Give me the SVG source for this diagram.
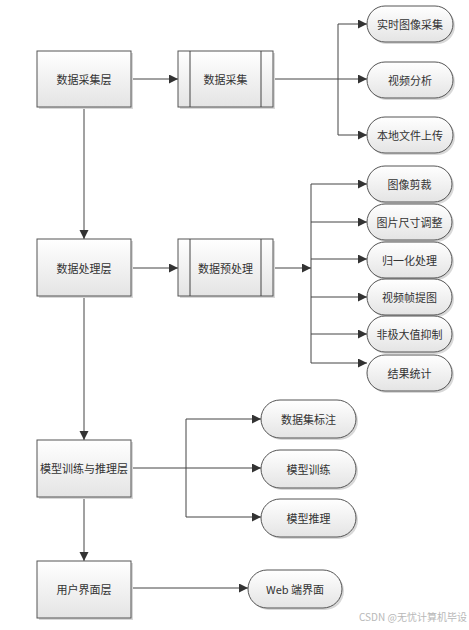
<svg xmlns="http://www.w3.org/2000/svg" width="469" height="630" viewBox="0 0 469 630">
<defs>
<linearGradient id="g" x1="0" y1="0" x2="0" y2="1">
<stop offset="0" stop-color="#ffffff"/>
<stop offset="1" stop-color="#e4e4e4"/>
</linearGradient>
<marker id="ah" markerUnits="userSpaceOnUse" markerWidth="10" markerHeight="10" refX="9" refY="4.5" orient="auto">
<path d="M0,0 L9,4.5 L0,9 Z" fill="#333"/>
</marker>
</defs>
<style>
.box{fill:url(#g);stroke:#555;stroke-width:1}
.sh{fill:#d8d8d8}
.pill{fill:url(#g);stroke:#555;stroke-width:1}
.t{font-family:"Noto Sans CJK SC","Liberation Sans",sans-serif;font-size:11px;fill:#333;text-anchor:middle;dominant-baseline:central}
.ln{stroke:#444;stroke-width:1;fill:none}
.ar{stroke:#444;stroke-width:1;fill:none;marker-end:url(#ah)}
.wm{font-family:"Noto Sans CJK SC","Liberation Sans",sans-serif;font-size:10px;fill:#b8b8b8}
</style>
<rect width="469" height="630" fill="#fff"/>

<g id="connectors">
<path class="ar" d="M131,79 H178"/>
<path class="ar" d="M131,268 H178"/>
<path class="ar" d="M84,107 V239"/>
<path class="ar" d="M84,296 V440"/>
<path class="ar" d="M84,497 V561"/>
<path class="ar" d="M273,79 H367"/>
<path class="ln" d="M338,24 V135"/>
<path class="ar" d="M338,24 H367"/>
<path class="ar" d="M338,135 H367"/>
<path class="ar" d="M273,268 H311"/>
<path class="ln" d="M311,184 V363"/>
<path class="ar" d="M311,184 H367"/>
<path class="ar" d="M311,222 H367"/>
<path class="ar" d="M311,259 H367"/>
<path class="ar" d="M311,297 H367"/>
<path class="ar" d="M311,334 H367"/>
<path class="ar" d="M311,363 H367"/>
<path class="ar" d="M131,468 H261"/>
<path class="ln" d="M186,419 V517"/>
<path class="ar" d="M186,419 H261"/>
<path class="ar" d="M186,517 H261"/>
<path class="ar" d="M131,588 H248"/>
</g>

<g id="layer1"><rect class="sh" x="39" y="53" width="94" height="56"/><rect class="box" x="37" y="51" width="94" height="56"/><text class="t" x="84" y="79">数据采集层</text></g>
<g id="layer2"><rect class="sh" x="39" y="241" width="94" height="57"/><rect class="box" x="37" y="239" width="94" height="57"/><text class="t" x="84" y="268">数据处理层</text></g>
<g id="layer3"><rect class="sh" x="39" y="442" width="94" height="57"/><rect class="box" x="37" y="440" width="94" height="57"/><text class="t" x="84" y="468">模型训练与推理层</text></g>
<g id="layer4"><rect class="sh" x="39" y="563" width="94" height="57"/><rect class="box" x="37" y="561" width="94" height="57"/><text class="t" x="84" y="589">用户界面层</text></g>

<g id="proc1"><rect class="sh" x="180" y="53" width="95" height="56"/><rect class="box" x="178" y="51" width="95" height="56"/><path class="ln" d="M190,51 V107 M261,51 V107" stroke="#777"/><text class="t" x="225.5" y="79">数据采集</text></g>
<g id="proc2"><rect class="sh" x="180" y="241" width="95" height="57"/><rect class="box" x="178" y="239" width="95" height="57"/><path class="ln" d="M190,239 V296 M261,239 V296" stroke="#777"/><text class="t" x="225.5" y="268">数据预处理</text></g>

<g id="p-rt"><rect class="sh" x="369" y="8" width="86" height="36" rx="18"/><rect class="pill" x="367" y="6" width="86" height="36" rx="18"/><text class="t" x="410" y="24">实时图像采集</text></g>
<g id="p-vid"><rect class="sh" x="369" y="64" width="86" height="36" rx="18"/><rect class="pill" x="367" y="62" width="86" height="36" rx="18"/><text class="t" x="410" y="80">视频分析</text></g>
<g id="p-up"><rect class="sh" x="369" y="119" width="86" height="36" rx="18"/><rect class="pill" x="367" y="117" width="86" height="36" rx="18"/><text class="t" x="410" y="135">本地文件上传</text></g>

<g id="p-crop"><rect class="sh" x="369" y="168" width="85" height="36" rx="18"/><rect class="pill" x="367" y="166" width="85" height="36" rx="18"/><text class="t" x="409.5" y="184">图像剪裁</text></g>
<g id="p-resize"><rect class="sh" x="369" y="206" width="85" height="36" rx="18"/><rect class="pill" x="367" y="204" width="85" height="36" rx="18"/><text class="t" x="409.5" y="222">图片尺寸调整</text></g>
<g id="p-norm"><rect class="sh" x="369" y="244" width="85" height="36" rx="18"/><rect class="pill" x="367" y="242" width="85" height="36" rx="18"/><text class="t" x="409.5" y="260">归一化处理</text></g>
<g id="p-frame"><rect class="sh" x="369" y="281" width="85" height="36" rx="18"/><rect class="pill" x="367" y="279" width="85" height="36" rx="18"/><text class="t" x="409.5" y="297">视频帧提图</text></g>
<g id="p-nms"><rect class="sh" x="369" y="318" width="85" height="36" rx="18"/><rect class="pill" x="367" y="316" width="85" height="36" rx="18"/><text class="t" x="409.5" y="334">非极大值抑制</text></g>
<g id="p-stat"><rect class="sh" x="369" y="357" width="85" height="36" rx="18"/><rect class="pill" x="367" y="355" width="85" height="36" rx="18"/><text class="t" x="409.5" y="373">结果统计</text></g>

<g id="p-label"><rect class="sh" x="263" y="402" width="95" height="38" rx="19"/><rect class="pill" x="261" y="400" width="95" height="38" rx="19"/><text class="t" x="308.5" y="419">数据集标注</text></g>
<g id="p-train"><rect class="sh" x="263" y="452" width="95" height="38" rx="19"/><rect class="pill" x="261" y="450" width="95" height="38" rx="19"/><text class="t" x="308.5" y="469">模型训练</text></g>
<g id="p-infer"><rect class="sh" x="263" y="501" width="95" height="38" rx="19"/><rect class="pill" x="261" y="499" width="95" height="38" rx="19"/><text class="t" x="308.5" y="518">模型推理</text></g>

<g id="p-web"><rect class="sh" x="250" y="572" width="94" height="38" rx="19"/><rect class="pill" x="248" y="570" width="94" height="38" rx="19"/><text class="t" x="295" y="589">Web 端界面</text></g>

<text class="wm" x="359" y="621">CSDN @无忧计算机毕设</text>
</svg>
